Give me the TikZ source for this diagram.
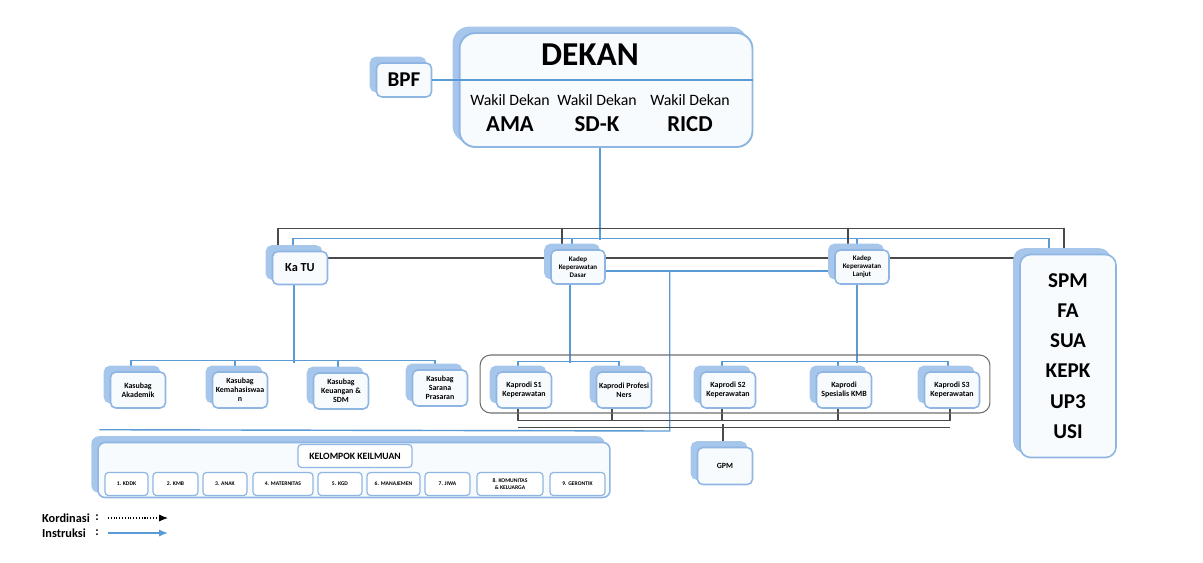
\documentclass[tikz,border=0pt]{standalone}
\usepackage{fontspec}
\setmainfont{Carlito}
\usepackage{tikz}
\usetikzlibrary{positioning,arrows.meta,shadows,backgrounds}
\definecolor{boxedge}{HTML}{8FB6E2}
\definecolor{boxshade}{HTML}{A6C6EC}
\definecolor{boxfill}{HTML}{F8FBFE}
\definecolor{wire}{HTML}{5B9BD5}
\definecolor{ink}{HTML}{4A4A4A}

\begin{document}
\begin{tikzpicture}[x=0.02cm,y=-0.02cm,font=\bfseries,
  box/.style={draw=boxedge,line width=0.9pt,rounded corners=3pt,fill=boxfill,
              align=center,inner sep=1pt,
              copy shadow={shadow xshift=-0.12cm,shadow yshift=0.11cm,fill=boxshade,draw=boxshade}},
  unit/.style={box,minimum width=1.08cm,minimum height=0.68cm,font=\bfseries\fontsize{4}{4.6}\selectfont},
  sub/.style={box,minimum width=1.1cm,minimum height=0.72cm,font=\bfseries\fontsize{4.5}{5.2}\selectfont},
  kk/.style={draw=boxedge,line width=0.7pt,rounded corners=2pt,fill=white,align=center,
             inner sep=0.5pt,minimum height=0.46cm,font=\bfseries\fontsize{3.2}{3.8}\selectfont},
  ins/.style={wire,line width=0.8pt},
  kor/.style={ink,line width=0.6pt}]
\useasboundingbox (0,0) rectangle (1203,562);

% dekan and wakil dekan
\node[box,rounded corners=9pt,line width=1.1pt,minimum width=5.86cm,minimum height=2.28cm] (dekan) at (606,90) {};
\node[box,minimum width=1.1cm,minimum height=0.68cm,font=\bfseries\fontsize{12}{14}\selectfont] (bpf) at (404,80) {BPF};
\draw[wire,line width=0.7pt] (bpf.east) -- (bpf.east -| dekan.east);
\node[font=\bfseries\fontsize{19}{22}\selectfont] (dekanttl) at (590,55) {DEKAN};
\node[font=\fontsize{9}{11}\selectfont] (wdama) at (510,100) {Wakil Dekan};
\node[font=\fontsize{9}{11}\selectfont] (wdsdk) at (597,100) {Wakil Dekan};
\node[font=\fontsize{9}{11}\selectfont] (wdricd) at (690,100) {Wakil Dekan};
\node[font=\bfseries\fontsize{13}{15}\selectfont] (ama) at (510,124) {AMA};
\node[font=\bfseries\fontsize{13}{15}\selectfont] (sdk) at (597,124) {SD-K};
\node[font=\bfseries\fontsize{13}{15}\selectfont] (ricd) at (690,124) {RICD};

% second level
\node[box,minimum width=1.1cm,minimum height=0.66cm,font=\bfseries\fontsize{7}{8}\selectfont] (katu) at (300,268) {Ka TU};
\node[unit] (kadepdasar) at (578,267) {Kadep\\Keperawatan\\Dasar};
\node[unit] (kadeplanjut) at (862,267) {Kadep\\Keperawatan\\Lanjut};
\node[box,rounded corners=6pt,minimum width=1.92cm,minimum height=4.06cm,
      font=\bfseries\fontsize{12}{17.2}\selectfont] (spm) at (1068,356) {SPM\\FA\\SUA\\KEPK\\UP3\\USI};

% bagian under ka tu
\node[sub] (akademik) at (138,390) {Kasubag\\Akademik};
\node[sub] (kemahasiswaan) at (240,390) {Kasubag\\Kemahasiswaa\\n};
\node[sub] (keuangan) at (341,391) {Kasubag\\Keuangan \&\\SDM};
\node[sub] (sarana) at (440,388) {Kasubag\\Sarana\\Prasaran};

% program studi
\node[draw=ink!80,line width=0.6pt,rounded corners=6pt,minimum width=10.2cm,minimum height=1.16cm] (prodigroup) at (735,384) {};
\node[sub] (prodis1) at (524,390) {Kaprodi S1\\Keperawatan};
\node[sub] (ners) at (624,390) {Kaprodi Profesi\\Ners};
\node[sub] (prodis2) at (728,390) {Kaprodi S2\\Keperawatan};
\node[sub] (spesialis) at (844,390) {Kaprodi\\Spesialis KMB};
\node[sub] (prodis3) at (952,390) {Kaprodi S3\\Keperawatan};
\node[sub,minimum height=0.74cm] (gpm) at (725,466) {GPM};

% kelompok keilmuan
\node[box,rounded corners=4pt,minimum width=10.24cm,minimum height=1.1cm] (kelompok) at (354,470) {};
\node[kk,minimum width=2.28cm,font=\bfseries\fontsize{5.5}{6.5}\selectfont] (kktitle) at (355,456) {KELOMPOK KEILMUAN};
\foreach \cx/\kw/\lbl [count=\i] in {126.5/0.86/{1. KDDK},175.5/0.90/{2. KMB},225/0.88/{3. ANAK},
    283/1.20/{4. MATERNITAS},340/0.88/{5. KGD},393.5/1.06/{6. MANAJEMEN},447.5/0.90/{7. JIWA},
    510/1.32/{8. KOMUNITAS\\\& KELUARGA},577.5/1.10/{9. GERONTIK}}
  \node[kk,minimum width=\kw cm] (kk\i) at (\cx,484) {\lbl};

% legend
\node[font=\bfseries\fontsize{7}{8}\selectfont] (korlbl) at (66,518) {Kordinasi};
\node[font=\bfseries\fontsize{7}{8}\selectfont] (korcolon) at (97,518) {:};
\node[font=\bfseries\fontsize{7}{8}\selectfont] (inslbl) at (64,533) {Instruksi};
\node[font=\bfseries\fontsize{7}{8}\selectfont] (inscolon) at (97,533) {:};
\coordinate (korend) at (168,518);
\coordinate (insend) at (168,533);
\draw[kor,densely dotted,-{Latex[length=5pt,width=4pt]},black] ([shift={(3,0)}]korcolon.east) -- (korend);
\draw[ins,-{Latex[length=5pt,width=4pt]}] ([shift={(3,0)}]inscolon.east) -- (insend);

\begin{scope}[on background layer]
% instruksi lines
\draw[ins] ([shift={(-6,0)}]dekan.south) -- ++(0,92);
\draw[ins] ([shift={(-7,0)}]katu.north) -- ++(0,-12) -| ([shift={(-19,0)}]spm.north);
\draw[ins] ([shift={(-6,0)}]kadepdasar.north) -- ++(0,-11);
\draw[ins] ([shift={(-5,0)}]kadeplanjut.north) -- ++(0,-11);
\draw[ins] ([shift={(-6,0)}]katu.south) -- ++(0,78);
\draw[ins] ([shift={(-7,0)}]akademik.north) -- ++(0,-11) -| ([shift={(-5,0)}]sarana.north);
\draw[ins] ([shift={(-5,0)}]kemahasiswaan.north) -- ++(0,-11);
\draw[ins] ([shift={(-3,0)}]keuangan.north) -- ++(0,-11);
\draw[ins] ([shift={(-8,0)}]kadepdasar.south) -- ++(0,78);
\draw[ins] ([shift={(-6,0)}]prodis1.north) -- ++(0,-10) -| ([shift={(-5,0)}]ners.north);
\draw[ins] ([shift={(-5,0)}]kadeplanjut.south) -- ++(0,78);
\draw[ins] ([shift={(-6,0)}]prodis2.north) -- ++(0,-10) -| ([shift={(-4,0)}]prodis3.north);
\draw[ins] ([shift={(-6,0)}]spesialis.north) -- ++(0,-10);
\draw[ins] ([shift={(0,4)}]kadepdasar.east) -- ([shift={(0,4)}]kadeplanjut.west);
\draw[ins] ([shift={(0,4)}]kadepdasar.east) -- ++(64,0) -- ++(0,160) -- ([shift={(2,-12)}]kelompok.north west);
% koordinasi lines
\draw[kor] ([shift={(-22,0)}]katu.north) -- ++(0,-22) -| ([shift={(-4,0)}]spm.north);
\draw[kor] ([shift={(-16,0)}]kadepdasar.north) -- ++(0,-21);
\draw[kor] ([shift={(-14,0)}]kadeplanjut.north) -- ++(0,-21);
\draw[kor] ([shift={(0,-10)}]katu.east) -- ([shift={(0,-9)}]kadepdasar.west);
\draw[kor] ([shift={(0,-9)}]kadepdasar.east) -- ([shift={(0,-9)}]kadeplanjut.west);
\draw[kor] ([shift={(0,-9)}]kadeplanjut.east) -- ++(130,0);
\draw[kor] ([shift={(-6,0)}]prodis1.south) -- ++(0,12) -| ([shift={(-2,0)}]prodis3.south);
\draw[kor] ([shift={(-12,0)}]ners.south) -- ++(0,12);
\draw[kor] ([shift={(-6,0)}]prodis2.south) -- ++(0,12);
\draw[kor] ([shift={(-6,0)}]spesialis.south) -- ++(0,12);
\draw[kor] ([shift={(-6,19)}]prodis1.south) -- ([shift={(-2,19)}]prodis3.south);
\draw[kor] ([shift={(-2,0)}]gpm.north) -- ++(0,-23);
\end{scope}
\end{tikzpicture}
\end{document}
